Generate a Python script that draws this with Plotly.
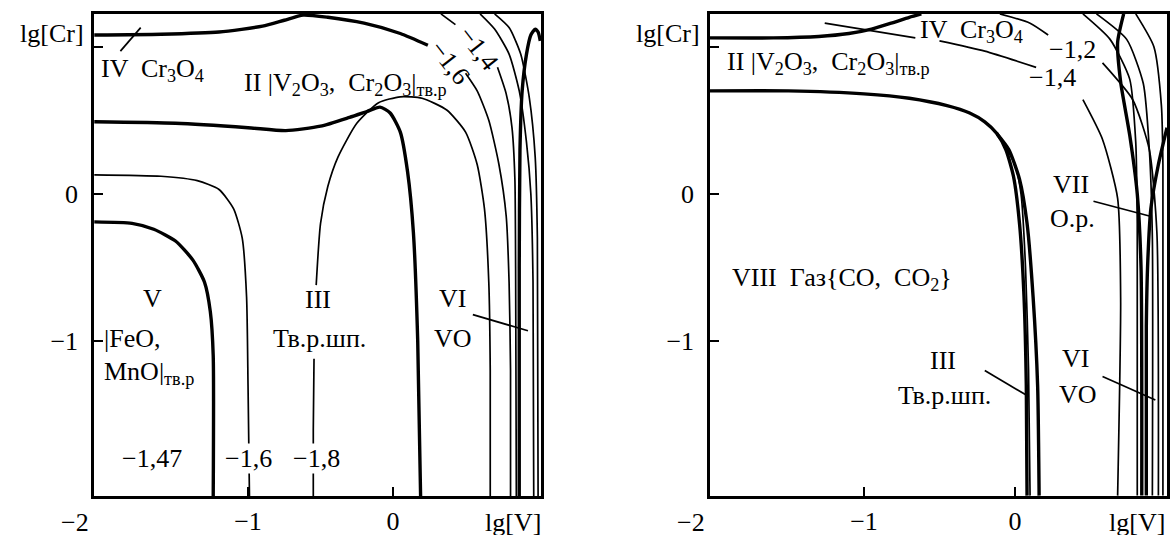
import plotly.graph_objects as go

FONT = "Liberation Serif"
INK = "black"
THICK = 3.4
THIN = 1.7

# ---------------- left diagram: lg[V] vs lg[Cr] ----------------
# thick boundary IV / II (top)
l_iv_x = [-2.06, -1.6, -1.2, -0.9, -0.75, -0.62, -0.45, -0.2, 0.05, 0.24]
l_iv_y = [1.08, 1.085, 1.10, 1.14, 1.18, 1.215, 1.20, 1.16, 1.09, 1.01]
# thick boundary II / III turning down
l_ii_x = [-2.06, -1.5, -1.0, -0.74, -0.5, -0.3, -0.18, -0.09, -0.02, 0.05, 0.10, 0.14, 0.17, 0.19]
l_ii_y = [0.49, 0.48, 0.45, 0.43, 0.46, 0.52, 0.56, 0.59, 0.55, 0.42, 0.15, -0.26, -1.0, -2.06]
# thick boundary of region V
l_v_x = [-2.06, -1.8, -1.65, -1.5, -1.38, -1.3, -1.26, -1.24, -1.24]
l_v_y = [-0.19, -0.20, -0.24, -0.32, -0.45, -0.60, -0.80, -1.10, -2.06]
# thin contour -1.6 (left part)
l_c16a_x = [-2.06, -1.6, -1.35, -1.2, -1.1, -1.04, -1.01, -1.0, -0.99]
l_c16a_y = [0.13, 0.12, 0.09, 0.03, -0.10, -0.30, -0.70, -1.30, -2.06]
# thin contour -1.8: lower stem and arch
l_c18a_x = [-0.55, -0.55, -0.545]
l_c18a_y = [-2.06, -1.60, -1.12]
l_c18b_x = [-0.53, -0.50, -0.45, -0.38, -0.25, -0.10, 0.05, 0.20, 0.37, 0.50, 0.58, 0.63, 0.66, 0.67, 0.67]
l_c18b_y = [-0.62, -0.20, 0.05, 0.25, 0.48, 0.62, 0.66, 0.65, 0.57, 0.42, 0.20, -0.10, -0.60, -1.20, -2.06]
# thin contour -1.6 (right part, below its label)
l_c16b_x = [0.50, 0.58, 0.66, 0.73, 0.78, 0.80, 0.81, 0.81]
l_c16b_y = [0.82, 0.70, 0.50, 0.20, -0.15, -0.60, -1.20, -2.06]
# thin contour -1.4
l_c14a_x = [0.33, 0.43]
l_c14a_y = [1.223, 1.15]
l_c14b_x = [0.72, 0.78, 0.82, 0.84, 0.845, 0.85]
l_c14b_y = [0.86, 0.68, 0.45, 0.10, -0.50, -2.06]
# thick arch near the right edge
l_arch_x = [0.87, 0.87, 0.875, 0.89, 0.92, 0.95, 0.98, 1.0, 1.015]
l_arch_y = [-2.06, -0.50, 0.30, 0.70, 0.95, 1.08, 1.12, 1.10, 1.04]
# outer thin contours
l_c12_x = [0.60, 0.70, 0.80, 0.87, 0.92, 0.95, 0.965, 0.97]
l_c12_y = [1.223, 1.12, 0.95, 0.70, 0.35, 0.0, -0.60, -2.06]
l_c10_x = [0.70, 0.80, 0.88, 0.94, 0.98, 0.995, 1.0]
l_c10_y = [1.223, 1.13, 0.95, 0.65, 0.25, -0.30, -2.06]
# leader lines
l_lead_iv_x = [-1.88, -1.74]
l_lead_iv_y = [0.97, 1.13]
l_lead_vi_x = [0.55, 0.93]
l_lead_vi_y = [-0.82, -0.93]

# ---------------- right diagram ----------------
r_iv_x = [-2.02, -1.6, -1.3, -1.1, -0.95, -0.82, -0.7, -0.62]
r_iv_y = [1.06, 1.06, 1.07, 1.09, 1.12, 1.16, 1.20, 1.223]
r_ii_x = [-2.02, -1.5, -1.0, -0.7, -0.45, -0.3, -0.2, -0.12, -0.06, -0.01, 0.03, 0.06, 0.075, 0.08]
r_ii_y = [0.70, 0.70, 0.68, 0.65, 0.60, 0.55, 0.49, 0.41, 0.30, 0.12, -0.20, -0.70, -1.30, -2.05]
r_iii_x = [-0.12, -0.04, 0.03, 0.08, 0.12, 0.15, 0.16]
r_iii_y = [0.41, 0.30, 0.10, -0.20, -0.70, -1.30, -2.05]
r_mid_x = [-0.09, 0.0, 0.04, 0.07, 0.09, 0.10]
r_mid_y = [0.37, 0.20, 0.0, -0.50, -1.20, -2.05]
r_c12a_x = [-0.10, 0.10, 0.22]
r_c12a_y = [1.223, 1.16, 1.08]
r_c12b_x = [0.58, 0.78, 0.89, 0.94, 0.95]
r_c12b_y = [0.89, 0.64, 0.30, -0.26, -2.05]
r_c14a_x = [-0.50, -0.20, 0.14]
r_c14a_y = [1.04, 0.97, 0.86]
r_c14b_x = [0.45, 0.58, 0.68, 0.70, 0.68]
r_c14b_y = [0.64, 0.37, -0.03, -0.71, -2.05]
r_o1_x = [0.45, 0.63, 0.76, 0.80, 0.81, 0.81]
r_o1_y = [1.223, 1.05, 0.78, 0.35, -0.20, -2.05]
r_o2_x = [0.72, 0.68, 0.70, 0.76, 0.81, 0.835, 0.84]
r_o2_y = [1.223, 1.03, 0.76, 0.40, 0.0, -0.50, -2.05]
r_o3_x = [0.54, 0.74, 0.85, 0.89, 0.91, 0.91]
r_o3_y = [1.223, 1.05, 0.75, 0.30, -0.30, -2.05]
r_o4_x = [0.80, 0.92, 0.97, 0.98, 0.98]
r_o4_y = [1.223, 1.0, 0.6, 0.2, -2.05]
r_vii_x = [1.007, 0.95, 0.90, 0.88, 0.87, 0.87]
r_vii_y = [0.45, 0.20, -0.10, -0.45, -0.90, -2.05]
r_lead_iv_x = [-1.26, -0.66]
r_lead_iv_y = [1.16, 1.06]
r_lead_iii_x = [-0.20, 0.08]
r_lead_iii_y = [-1.20, -1.37]
r_lead_vi_x = [0.58, 0.93]
r_lead_vi_y = [-1.24, -1.40]
r_lead_vii_x = [0.52, 0.89]
r_lead_vii_y = [-0.05, -0.15]

fig = go.Figure()


def add_line(xs, ys, width, axis):
    fig.add_trace(go.Scatter(
        x=xs, y=ys, mode="lines", xaxis="x" + axis, yaxis="y" + axis,
        line=dict(color=INK, width=width, shape="spline", smoothing=0.6),
        hoverinfo="skip", showlegend=False))


left_thick = [(l_iv_x, l_iv_y), (l_ii_x, l_ii_y), (l_v_x, l_v_y), (l_arch_x, l_arch_y)]
left_thin = [(l_c16a_x, l_c16a_y), (l_c18a_x, l_c18a_y), (l_c18b_x, l_c18b_y),
             (l_c16b_x, l_c16b_y), (l_c14a_x, l_c14a_y), (l_c14b_x, l_c14b_y),
             (l_c12_x, l_c12_y), (l_c10_x, l_c10_y)]
left_leaders = [(l_lead_iv_x, l_lead_iv_y), (l_lead_vi_x, l_lead_vi_y)]
right_thick = [(r_iv_x, r_iv_y), (r_ii_x, r_ii_y), (r_iii_x, r_iii_y), (r_o2_x, r_o2_y),
               (r_vii_x, r_vii_y)]
right_thin = [(r_mid_x, r_mid_y), (r_c12a_x, r_c12a_y), (r_c12b_x, r_c12b_y),
              (r_c14a_x, r_c14a_y), (r_c14b_x, r_c14b_y), (r_o1_x, r_o1_y),
              (r_o3_x, r_o3_y), (r_o4_x, r_o4_y)]
right_leaders = [(r_lead_iv_x, r_lead_iv_y), (r_lead_iii_x, r_lead_iii_y),
                 (r_lead_vi_x, r_lead_vi_y), (r_lead_vii_x, r_lead_vii_y)]

for xs, ys in left_thick:
    add_line(xs, ys, THICK, "")
for xs, ys in left_thin + left_leaders:
    add_line(xs, ys, THIN, "")
for xs, ys in right_thick:
    add_line(xs, ys, THICK, "2")
for xs, ys in right_thin + right_leaders:
    add_line(xs, ys, THIN, "2")

TXT = dict(family=FONT, size=26, color=INK)
anns = []


def note(text, x, y, axis="", xanchor="center", yanchor="middle", angle=0, bg=None,
         xref=None, yref=None, xshift=0, yshift=0, height=None):
    d = dict(text=text, x=x, y=y, xref=xref or ("x" + axis), yref=yref or ("y" + axis),
             showarrow=False, xanchor=xanchor, yanchor=yanchor, textangle=angle,
             xshift=xshift, yshift=yshift, font=TXT)
    if height:
        d["height"] = height
        d["valign"] = "middle"
    if bg:
        d["bgcolor"] = bg
        d["borderpad"] = 0
    anns.append(d)


W, H = 1170, 536
ROW_H = 26      # box height of the labels sharing the lg[V] tick row
ROW_SHIFT = -4  # nudge onto the tick-label baseline

# left diagram labels
note("IV  Cr<sub>3</sub>O<sub>4</sub>", -2.03, 0.84, xanchor="left")
note("II |V<sub>2</sub>O<sub>3</sub>,  Cr<sub>2</sub>O<sub>3</sub>|<sub>тв.р</sub>", -1.04, 0.75, xanchor="left")
note("V", -1.66, -0.71)
note("|FeO,", -2.01, -0.98, xanchor="left")
note("MnO|<sub>тв.р</sub>", -2.01, -1.22, xanchor="left")
note("III", -0.52, -0.72)
note("Тв.р.шп.", -0.51, -0.98)
note("VI", 0.41, -0.71)
note("VO", 0.41, -0.98)
note("−1,47", -1.66, -1.80, bg="white")
note("−1,6", -1.0, -1.80, bg="white")
note("−1,8", -0.53, -1.80, bg="white")
note("−1,4", 0.59, 0.99, angle=52)
note("−1,6", 0.39, 0.89, angle=52)
note("lg[Cr]", 0, 1.09, xref="x domain", xanchor="right", xshift=-8)
note("−2", 0, 0, xref="x domain", yref="paper", xanchor="right", yanchor="bottom",
     xshift=-3, yshift=ROW_SHIFT, height=ROW_H)
note("lg[V]", 0.83, 0, yref="paper", yanchor="bottom", yshift=ROW_SHIFT, height=ROW_H)

# right diagram labels
note("IV  Cr<sub>3</sub>O<sub>4</sub>", -0.64, 1.11, axis="2", xanchor="left")
note("II |V<sub>2</sub>O<sub>3</sub>,  Cr<sub>2</sub>O<sub>3</sub>|<sub>тв.р</sub>", -1.92, 0.89, axis="2", xanchor="left")
note("−1,2", 0.38, 0.98, axis="2")
note("−1,4", 0.25, 0.79, axis="2")
note("VIII  Газ{CO,  CO<sub>2</sub>}", -1.89, -0.58, axis="2", xanchor="left")
note("VII", 0.37, 0.065, axis="2")
note("О.р.", 0.38, -0.17, axis="2")
note("III", -0.48, -1.13, axis="2")
note("Тв.р.шп.", -0.47, -1.37, axis="2")
note("VI", 0.40, -1.12, axis="2")
note("VO", 0.42, -1.36, axis="2")
note("lg[Cr]", 0, 1.09, axis="2", xref="x2 domain", xanchor="right", xshift=-8)
note("−2", 0, 0, axis="2", xref="x2 domain", yref="paper", xanchor="right",
     yanchor="bottom", xshift=-3, yshift=ROW_SHIFT, height=ROW_H)
note("lg[V]", 0.81, 0, axis="2", yref="paper", yanchor="bottom", yshift=ROW_SHIFT,
     height=ROW_H)

y_dom = [1 - 499 / H, 1 - 14 / H]
axis_common = dict(showgrid=False, zeroline=False, showline=True, mirror=True,
                   linecolor=INK, linewidth=2.5, ticks="inside", ticklen=9,
                   tickwidth=1.5, tickcolor=INK, tickfont=TXT)

fig.update_layout(
    width=W, height=H, margin=dict(l=0, r=0, t=0, b=0),
    paper_bgcolor="white", plot_bgcolor="white", showlegend=False,
    xaxis=dict(domain=[94 / W, 541 / W], range=[-2.062, 1.02],
               tickvals=[-1, 0], ticktext=["−1", "0"], anchor="y",
               ticklabelstandoff=0, **axis_common),
    yaxis=dict(domain=y_dom, range=[-2.054, 1.223],
               tickvals=[1, 0, -1], ticktext=["", "0", "−1"], anchor="x",
               ticklabelstandoff=8, **axis_common),
    xaxis2=dict(domain=[710 / W, 1167 / W], range=[-2.02, 1.007],
                tickvals=[-1, 0], ticktext=["−1", "0"], anchor="y2",
                ticklabelstandoff=0, **axis_common),
    yaxis2=dict(domain=y_dom, range=[-2.054, 1.223],
                tickvals=[1, 0, -1], ticktext=["", "0", "−1"], anchor="x2",
                ticklabelstandoff=8, **axis_common),
    annotations=anns,
)

fig.write_html("out.html")
